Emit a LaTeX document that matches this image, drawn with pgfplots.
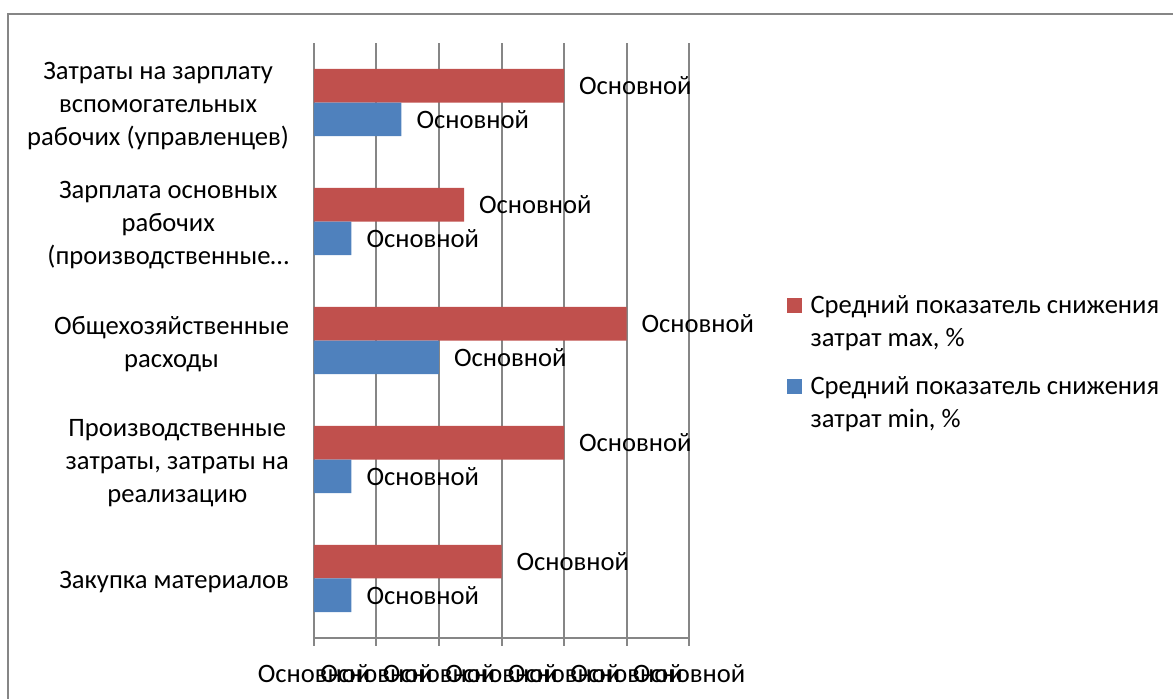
\documentclass[border=0pt]{standalone}
\usepackage{fontspec}
\setmainfont{Carlito}
\usepackage{pgfplots}
\pgfplotsset{compat=1.18}
\definecolor{cred}{HTML}{C0504D}
\definecolor{cblue}{HTML}{4F81BD}
\definecolor{cgrid}{HTML}{868686}
\begin{document}
\begin{tikzpicture}[font=\fontsize{13.3}{16.5}\selectfont]
\path[use as bounding box] (0,0) rectangle (586.5pt,-349.5pt);
\draw[cgrid, line width=1pt] (4pt,-360pt) -- (4pt,-7pt) -- (600pt,-7pt);
\begin{axis}[
  at={(157pt,-319pt)}, anchor=south west,
  scale only axis, width=187.5pt, height=297.5pt,
  xbar, bar width=16.85pt,
  xmin=0, xmax=6, ymin=-0.5, ymax=4.5,
  axis x line*=bottom, axis y line*=left,
  axis line style={cgrid, line width=1pt},
  tick align=outside, major tick length=4pt,
  tick style={cgrid, line width=1pt},
  xtick={0,...,6},
  xticklabels={Основной,Основной,Основной,Основной,Основной,Основной,Основной},
  xticklabel style={yshift=-5.5pt},
  xmajorgrids, grid style={cgrid, line width=1pt},
  ytick={0,...,4},
  ytick style={draw=none},
  yticklabels={{Закупка материалов},{Производственные\\затраты, затраты на\\реализацию},{Общехозяйственные\\расходы},{Зарплата основных\\рабочих\\(производственные…},{Затраты на зарплату\\вспомогательных\\рабочих (управленцев)}},
  yticklabel style={align=center, xshift=-5pt, yshift=-2pt},
  extra y ticks={-0.5,0.5,1.5,2.5,3.5,4.5},
  extra y tick labels={},
  extra y tick style={tick style={draw=cgrid, line width=1pt}},
  nodes near coords={Основной},
  every node near coord/.append style={anchor=west, xshift=4pt, black},
  legend style={at={(1.243,0.59)}, anchor=north west, draw=none, fill=none,
    nodes={align=left}, row sep=9.5pt, column sep=2.5pt},
  legend cell align=left,
  legend image code/.code={\fill[#1] (0pt,4.5pt) rectangle (7.5pt,12pt);},
]
\addplot[fill=cred, draw=none, bar shift=8.425pt] coordinates {(3,0) (4,1) (5,2) (2.4,3) (4,4)};
\addlegendentry{Средний показатель снижения\\затрат max, \%}
\addplot[fill=cblue, draw=none, bar shift=-8.425pt] coordinates {(0.6,0) (0.6,1) (2,2) (0.6,3) (1.4,4)};
\addlegendentry{Средний показатель снижения\\затрат min, \%}
\end{axis}
\end{tikzpicture}
\end{document}
